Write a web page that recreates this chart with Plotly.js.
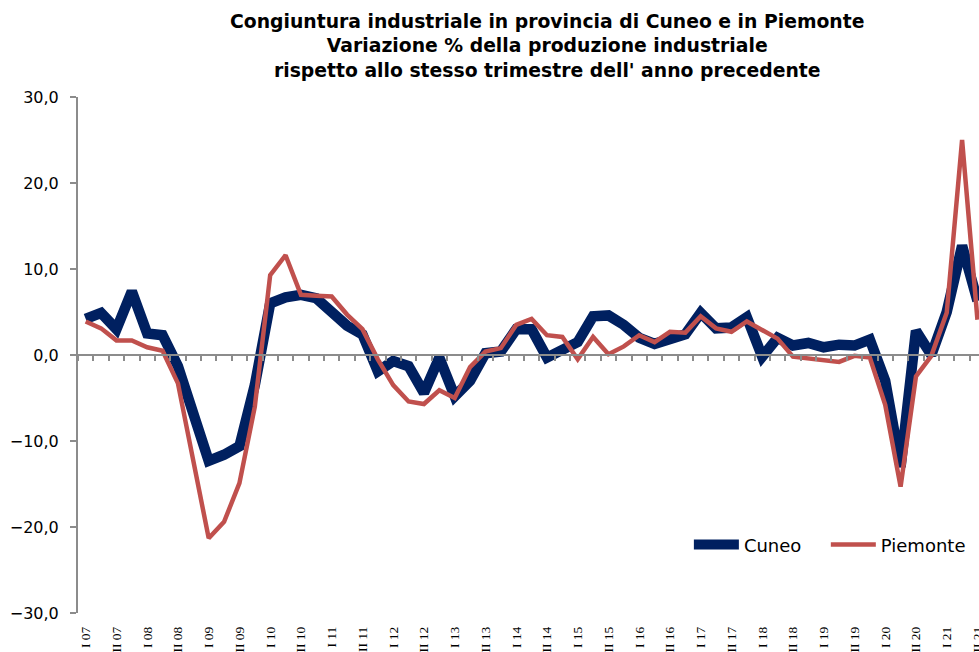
<!DOCTYPE html>
<html>
<head>
<meta charset="utf-8">
<script src="https://cdn.plot.ly/plotly-3.0.1.min.js"></script>
<style>html,body{margin:0;padding:0;background:#fff;}#chart{width:979px;height:652px;}</style>
</head>
<body>
<div id="chart"></div>
<script>
// Quarter labels (one per data point); only every other one is shown on the axis, as in the original
const quarters = [
  "I 07","II 07","III 07","IV 07","I 08","II 08","III 08","IV 08",
  "I 09","II 09","III 09","IV 09","I 10","II 10","III 10","IV 10",
  "I 11","II 11","III 11","IV 11","I 12","II 12","III 12","IV 12",
  "I 13","II 13","III 13","IV 13","I 14","II 14","III 14","IV 14",
  "I 15","II 15","III 15","IV 15","I 16","II 16","III 16","IV 16",
  "I 17","II 17","III 17","IV 17","I 18","II 18","III 18","IV 18",
  "I 19","II 19","III 19","IV 19","I 20","II 20","III 20","IV 20",
  "I 21","II 21","III 21"
];
// Tick labels as printed on the axis (every second quarter)
const tickLabels = [
  "I 07","II 07","I 08","II 08","I 09","II 09","I 10","II 10","I 11","II 11",
  "I 12","II 12","I 13","II 13","I 14","II 14","I 15","II 15","I 16","II 16",
  "I 17","II 17","I 18","II 18","I 19","II 19","I 20","II 20","I 21","II 21"
];
const cuneo = [
  4.2, 4.9, 3.0, 7.4, 2.5, 2.3, -1.3, -6.5, -12.3, -11.6, -10.6, -3.5,
  6.0, 6.7, 7.0, 6.6, 4.9, 3.4, 2.4, -1.9, -0.7, -1.3, -4.4, -0.3,
  -4.8, -3.0, 0.2, 0.4, 3.0, 3.0, -0.3, 0.7, 1.5, 4.5, 4.6, 3.5,
  2.0, 1.3, 2.0, 2.4, 4.9, 3.1, 3.2, 4.4, -0.2, 2.0, 1.1, 1.4,
  0.9, 1.2, 1.1, 1.8, -3.0, -13.0, 2.8, 0.0, 5.0, 12.7, 6.3
];
const piemonte = [
  3.9, 3.1, 1.7, 1.7, 0.9, 0.5, -3.3, -12.3, -21.3, -19.4, -14.9, -6.0,
  9.3, 11.6, 7.0, 6.9, 6.8, 4.7, 3.0, -0.5, -3.5, -5.4, -5.7, -4.1,
  -5.0, -1.4, 0.4, 0.8, 3.5, 4.2, 2.3, 2.1, -0.5, 2.1, 0.1, 1.0,
  2.3, 1.5, 2.7, 2.6, 4.5, 3.1, 2.7, 3.9, 2.9, 1.9, -0.2, -0.4,
  -0.5, -0.8, -0.1, -0.3, -5.8, -15.3, -2.5, -0.1, 4.9, 25.0, 4.1
];
const yTicks = [-30, -20, -10, 0, 10, 20, 30];

const n = cuneo.length;
const xIdx = cuneo.map((_, i) => i);
const tickVals = tickLabels.map((_, k) => 2 * k);
const xRange = [-0.5, n - 0.9];

const traces = [
  {x: [xRange[0]], y: [0], xaxis: "x2", yaxis: "y", mode: "markers", type: "scatter",
   marker: {opacity: 0}, showlegend: false, hoverinfo: "skip"},
  {x: xIdx, y: cuneo, name: "Cuneo", type: "scatter", mode: "lines", legend: "legend",
   text: quarters.slice(0, n), hoverinfo: "text+y",
   line: {color: "#002060", width: 10.5}},
  {x: xIdx, y: piemonte, name: "Piemonte", type: "scatter", mode: "lines", legend: "legend2",
   text: quarters.slice(0, n), hoverinfo: "text+y",
   line: {color: "#C0504D", width: 4.5}}
];

const legendFont = {family: "DejaVu Sans, Verdana, sans-serif", size: 18, color: "#000000"};

const layout = {
  width: 979, height: 652,
  margin: {l: 78, r: 0, t: 97, b: 39, pad: 0, autoexpand: false},
  paper_bgcolor: "#ffffff", plot_bgcolor: "#ffffff",
  separators: ",.",
  font: {family: "DejaVu Sans, Verdana, sans-serif", color: "#000000"},
  showlegend: true,
  title: {
    text: "<b>Congiuntura industriale in provincia di Cuneo e in Piemonte<br>Variazione % della produzione industriale<br>rispetto allo stesso trimestre dell' anno precedente</b>",
    font: {family: "DejaVu Sans, Verdana, sans-serif", size: 18.8, color: "#000000"},
    xref: "container", x: 0.559, xanchor: "center",
    yref: "container", y: 0.957, yanchor: "top"
  },
  xaxis: {
    range: xRange, tickmode: "array", tickvals: tickVals, ticktext: tickLabels,
    tickangle: -90, tickfont: {family: "Liberation Serif, Times New Roman, serif", size: 13.5, color: "#000000"},
    showline: false, showgrid: false, zeroline: false, ticks: "", ticklabelstandoff: 10,
    ticklabeloverflow: "allow", automargin: false, fixedrange: true
  },
  xaxis2: {
    range: xRange, overlaying: "x", anchor: "free", position: 0.5,
    showline: true, linecolor: "#8c8c8c", linewidth: 2,
    ticks: "outside", ticklen: 5, tickwidth: 2, tickcolor: "#8c8c8c",
    tickmode: "linear", tick0: 0.5, dtick: 1,
    showticklabels: false, showgrid: false, zeroline: false, automargin: false, fixedrange: true
  },
  yaxis: {
    range: [-30, 30], tickmode: "array", tickvals: yTicks, tickformat: ".1f",
    tickfont: {family: "DejaVu Sans, Verdana, sans-serif", size: 16, color: "#000000"},
    showline: true, linecolor: "#8c8c8c", linewidth: 2,
    ticks: "outside", ticklen: 6, tickwidth: 2, tickcolor: "#8c8c8c",
    showgrid: false, zeroline: false, ticklabelstandoff: 8, automargin: false, fixedrange: true
  },
  legend: {
    orientation: "h", x: 0.678, xanchor: "left", y: 0.132, yanchor: "middle",
    font: legendFont, bgcolor: "rgba(255,255,255,0)", itemwidth: 45
  },
  legend2: {
    orientation: "h", x: 0.830, xanchor: "left", y: 0.132, yanchor: "middle",
    font: legendFont, bgcolor: "rgba(255,255,255,0)", itemwidth: 45
  }
};

Plotly.newPlot("chart", traces, layout, {displayModeBar: false, staticPlot: true});
</script>
</body>
</html>
